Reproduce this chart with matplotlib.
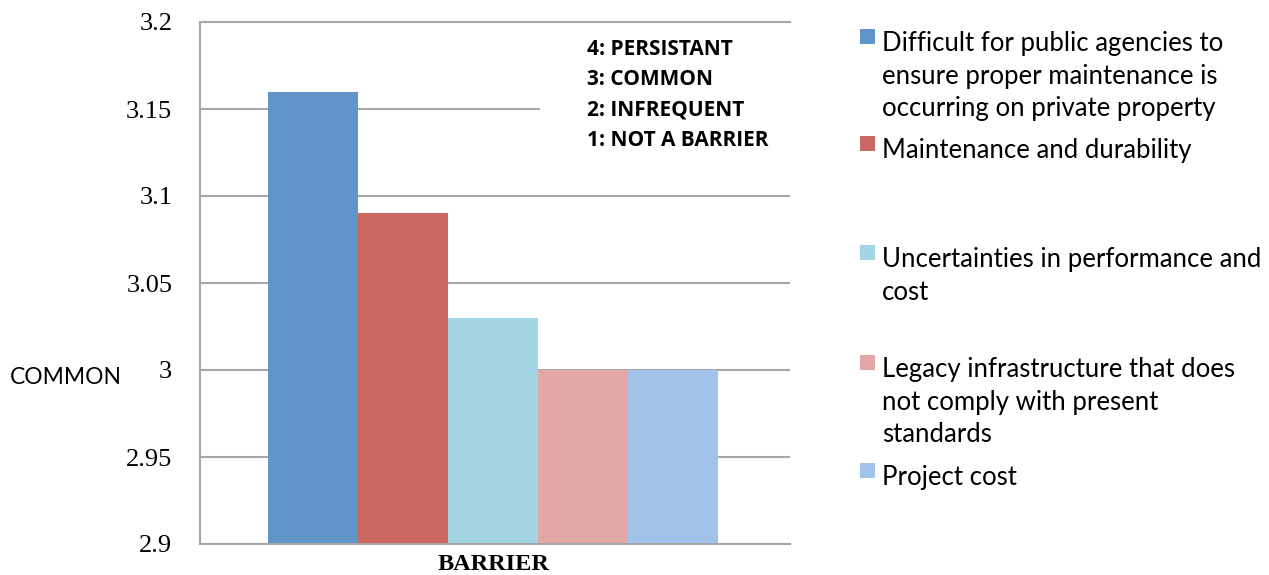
import matplotlib
matplotlib.use('Agg')
import matplotlib.pyplot as plt
from matplotlib.patches import Rectangle

# data
labels = [
    "Difficult for public agencies to\nensure proper maintenance is\noccurring on private property",
    "Maintenance and durability",
    "Uncertainties in performance and\ncost",
    "Legacy infrastructure that does\nnot comply with present\nstandards",
    "Project cost",
]
values = [3.16, 3.09, 3.03, 3.00, 3.00]
colors = ["#6096C9", "#CC6660", "#A3D5E3", "#E3A8A6", "#A2C3E9"]
yticks = [2.9, 2.95, 3.0, 3.05, 3.1, 3.15, 3.2]
ytick_labels = ["2.9", "2.95", "3", "3.05", "3.1", "3.15", "3.2"]
scale_text = "4: PERSISTANT\n3: COMMON\n2: INFREQUENT\n1: NOT A BARRIER"

grid_col = "#A6A6A6"
sans = ["Lato", "DejaVu Sans"]
serif = ["Liberation Serif", "DejaVu Serif"]

fig = plt.figure(figsize=(12.69, 5.75), dpi=100)
ax = fig.add_axes([200 / 1269, 1 - 544 / 575, 590 / 1269, 522 / 575])

x = list(range(len(values)))
ax.bar(x, [v - 2.9 for v in values], bottom=2.9, width=1.0, color=colors, zorder=2)

ax.set_ylim(2.9, 3.2)
ax.set_xlim(-1.256, 5.3)
ax.set_yticks(yticks)
ax.set_yticklabels(ytick_labels, family=serif, fontsize=19)
ax.set_xticks([2])
ax.set_xticklabels(["BARRIER"], family=serif, fontsize=17.5, fontweight="bold")
ax.tick_params(axis="y", length=0, pad=20)
ax.tick_params(axis="x", length=0, pad=7)

ax.set_axisbelow(True)
ax.yaxis.grid(True, color=grid_col, linewidth=1.5)
for s in ["left", "bottom", "top"]:
    ax.spines[s].set_color(grid_col)
    ax.spines[s].set_linewidth(1.5)
ax.spines["right"].set_visible(False)

# white box behind the scale text hides the gridline
ax.add_patch(Rectangle((0.576, 0.73), 0.43, 0.245, transform=ax.transAxes,
                       facecolor="white", edgecolor="none", zorder=1, clip_on=False))
fig.text(587 / 1269, 1 - 39 / 575, scale_text, family=["Open Sans", "DejaVu Sans"],
         fontsize=15, fontweight="bold", va="top", ha="left", linespacing=1.58)

fig.text(10 / 1269, 1 - 378 / 575, "COMMON", family=sans, fontsize=16.5,
         va="center", ha="left")

# legend, laid out like the original
legend_y = [41, 148, 257, 367, 475]
for lab, col, yy in zip(labels, colors, legend_y):
    fig.patches.append(Rectangle((860 / 1269, 1 - (yy + 3) / 575), 15 / 1269, 15 / 575,
                                 transform=fig.transFigure, facecolor=col,
                                 edgecolor="none"))
    fig.text(882 / 1269, 1 - (yy - 10) / 575, lab, family=sans, fontsize=18.5,
             va="top", ha="left", linespacing=1.38)

fig.savefig("out.png", dpi=100)
